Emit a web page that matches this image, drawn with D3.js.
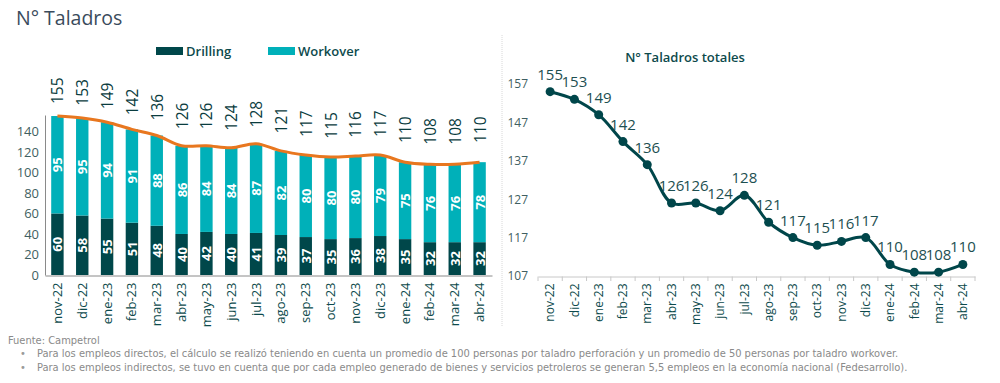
<!DOCTYPE html>
<html><head><meta charset="utf-8">
<script src="https://cdn.jsdelivr.net/npm/d3@7"></script>
<style>
body{margin:0;background:#fff;}
svg{display:block;}
</style></head>
<body>
<svg id="c" width="1000" height="383"></svg>
<script>
const months = ["nov-22","dic-22","ene-23","feb-23","mar-23","abr-23","may-23","jun-23","jul-23","ago-23","sep-23","oct-23","nov-23","dic-23","ene-24","feb-24","mar-24","abr-24"];
const drilling = [60,58,55,51,48,40,42,40,41,39,37,35,36,38,35,32,32,32];
const workover = [95,95,94,91,88,86,84,84,87,82,80,80,80,79,75,76,76,78];
const totals = [155,153,149,142,136,126,126,124,128,121,117,115,116,117,110,108,108,110];
const leftTicks = [0,20,40,60,80,100,120,140];
const rightTicks = [107,117,127,137,147,157];
const footer = [
  "Fuente: Campetrol",
  "Para los empleos directos, el cálculo se realizó teniendo en cuenta un promedio de 100 personas por taladro perforación y un promedio de 50 personas por taladro workover.",
  "Para los empleos indirectos, se tuvo en cuenta que por cada empleo generado de bienes y servicios petroleros se generan 5,5 empleos en la economía nacional (Fedesarrollo)."
];

const C_DRILL = "#00474a", C_WORK = "#00b0b9", C_ORANGE = "#e8771f", C_TXT = "#0d4a4c";
const FONT = "'Open Sans', 'DejaVu Sans', sans-serif";
const svg = d3.select("#c");

// Title
svg.append("text").attr("x",16).attr("y",25).attr("font-family",FONT).attr("font-size",19.5)
  .attr("fill","#3a4b5c").text("N° Taladros");

// separator
svg.append("line").attr("x1",502).attr("x2",502).attr("y1",35).attr("y2",326)
  .attr("stroke","#d8d8d8").attr("stroke-width",1).attr("stroke-dasharray","1,1");

// ===== Left chart =====
const xL = d3.scaleBand().domain(months).range([45,492]).paddingInner(0.5).paddingOuter(0.25);
const yL = d3.scaleLinear().domain([0,156]).range([275,115]);
const gL = svg.append("g");

// legend
const legend = [["Drilling",C_DRILL,156],["Workover",C_WORK,268]];
legend.forEach(([t,c,x])=>{
  gL.append("rect").attr("x",x).attr("y",47).attr("width",27).attr("height",8).attr("fill",c);
  gL.append("text").attr("x",x+30).attr("y",56).attr("font-family",FONT).attr("font-weight",600)
    .attr("font-size",13).attr("fill",C_TXT).text(t);
});

// y axis
const ayL = gL.append("g").attr("transform","translate(45,0)")
  .call(d3.axisLeft(yL).tickValues(leftTicks).tickSize(0).tickPadding(6));
ayL.select(".domain").attr("stroke","#8a8a8a");
ayL.selectAll("text").attr("font-family",FONT).attr("font-size",13).attr("fill","#3f5f62");

// bars
const bw = xL.bandwidth();
gL.selectAll(".bd").data(months).join("rect")
  .attr("x",d=>xL(d)).attr("width",bw)
  .attr("y",(d,i)=>yL(drilling[i])).attr("height",(d,i)=>yL(0)-yL(drilling[i]))
  .attr("fill",C_DRILL);
gL.selectAll(".bw").data(months).join("rect")
  .attr("x",d=>xL(d)).attr("width",bw)
  .attr("y",(d,i)=>yL(drilling[i]+workover[i])).attr("height",(d,i)=>yL(drilling[i])-yL(drilling[i]+workover[i]))
  .attr("fill",C_WORK);

// inner labels
function rotLabel(g,x,y,t,opts){
  g.append("text").attr("transform",`translate(${x},${y}) rotate(-90)`)
    .attr("text-anchor",opts.anchor||"middle").attr("dominant-baseline","central")
    .attr("font-family",FONT).attr("font-size",opts.size).attr("font-weight",opts.weight||"normal")
    .attr("fill",opts.fill).text(t);
}
months.forEach((m,i)=>{
  const cx = xL(m)+bw/2;
  rotLabel(gL,cx,(yL(0)+yL(drilling[i]))/2,drilling[i],{size:13,weight:"bold",fill:"#fff"});
  rotLabel(gL,cx,(yL(drilling[i])+yL(totals[i]))/2,workover[i],{size:13,weight:"bold",fill:"#fff"});
});

// x axis
const axL = gL.append("g").attr("transform","translate(0,275.5)")
  .call(d3.axisBottom(xL).tickSize(0).tickSizeOuter(0));
axL.select(".domain").attr("stroke","#8a8a8a");
axL.selectAll("text").attr("font-family",FONT).attr("font-size",13).attr("fill",C_TXT)
  .attr("transform","rotate(-90)").attr("text-anchor","end").attr("dy","0.35em").attr("x",-7).attr("y",0);

// orange total line
const lineL = d3.line().x((d,i)=>xL(months[i])+bw/2).y(d=>yL(d)).curve(d3.curveCatmullRom);
gL.append("path").datum(totals).attr("d",lineL).attr("fill","none")
  .attr("stroke",C_ORANGE).attr("stroke-width",3);

// top labels (positioned like original data labels)
const yLab = d3.scaleLinear().domain([110,155]).range([143,104]);
months.forEach((m,i)=>{
  rotLabel(gL,xL(m)+bw/2,yLab(totals[i]),totals[i],{size:15.5,fill:"#0a3c3e",anchor:"start"});
});

// ===== Right chart =====
const xR = d3.scaleBand().domain(months).range([538,975]);
const yR = d3.scaleLinear().domain([107,157]).range([276,84]);
const gR = svg.append("g");

gR.append("text").attr("x",685).attr("y",62).attr("text-anchor","middle").attr("font-family",FONT)
  .attr("font-weight",600).attr("font-size",13).attr("fill",C_TXT).text("N° Taladros totales");

const ayR = gR.append("g").attr("transform","translate(538,0)")
  .call(d3.axisLeft(yR).tickValues(rightTicks).tickSize(0).tickPadding(10));
ayR.select(".domain").remove();
ayR.selectAll("text").attr("font-family",FONT).attr("font-size",12).attr("fill","#3f5f62");

const axR = gR.append("g").attr("transform","translate(0,276.5)")
  .call(d3.axisBottom(xR).tickSize(0).tickSizeOuter(0));
axR.select(".domain").attr("stroke","#c8c8c8");
axR.selectAll("text").attr("font-family",FONT).attr("font-size",12).attr("fill",C_TXT)
  .attr("transform","rotate(-90)").attr("text-anchor","end").attr("dy","0.35em").attr("x",-7).attr("y",0);
// boundary tick marks
gR.selectAll(".bt").data(months.concat(["end"])).join("line")
  .attr("x1",(d,i)=>i<months.length?xR(d):xR.range()[1]).attr("x2",(d,i)=>i<months.length?xR(d):xR.range()[1])
  .attr("y1",276.5).attr("y2",281).attr("stroke","#c8c8c8");

const cxR = m=>xR(m)+xR.bandwidth()/2;
const lineR = d3.line().x((d,i)=>cxR(months[i])).y(d=>yR(d)).curve(d3.curveCatmullRom);
gR.append("path").datum(totals).attr("d",lineR).attr("fill","none")
  .attr("stroke","#00464a").attr("stroke-width",3);
gR.selectAll(".pt").data(totals).join("circle")
  .attr("cx",(d,i)=>cxR(months[i])).attr("cy",d=>yR(d)).attr("r",4.5).attr("fill","#00464a");
gR.selectAll(".pl").data(totals).join("text")
  .attr("x",(d,i)=>cxR(months[i])).attr("y",d=>yR(d)-12).attr("text-anchor","middle")
  .attr("font-family",FONT).attr("font-size",15).attr("fill","#1d4f51").text(d=>d);

// ===== Footer =====
const FF = "'Liberation Sans Narrow','DejaVu Sans Condensed',sans-serif";
svg.append("text").attr("x",8).attr("y",344).attr("font-family",FF).attr("font-size",11)
  .attr("fill","#8a8a8a").text(footer[0]);
[footer[1],footer[2]].forEach((t,i)=>{
  const y = 357 + i*14;
  svg.append("text").attr("x",20).attr("y",y).attr("font-family",FF).attr("font-size",11)
    .attr("fill","#9a9a9a").text("•");
  svg.append("text").attr("x",37).attr("y",y).attr("font-family",FF).attr("font-size",11)
    .attr("fill","#8a8a8a").text(t);
});
</script>
</body></html>
